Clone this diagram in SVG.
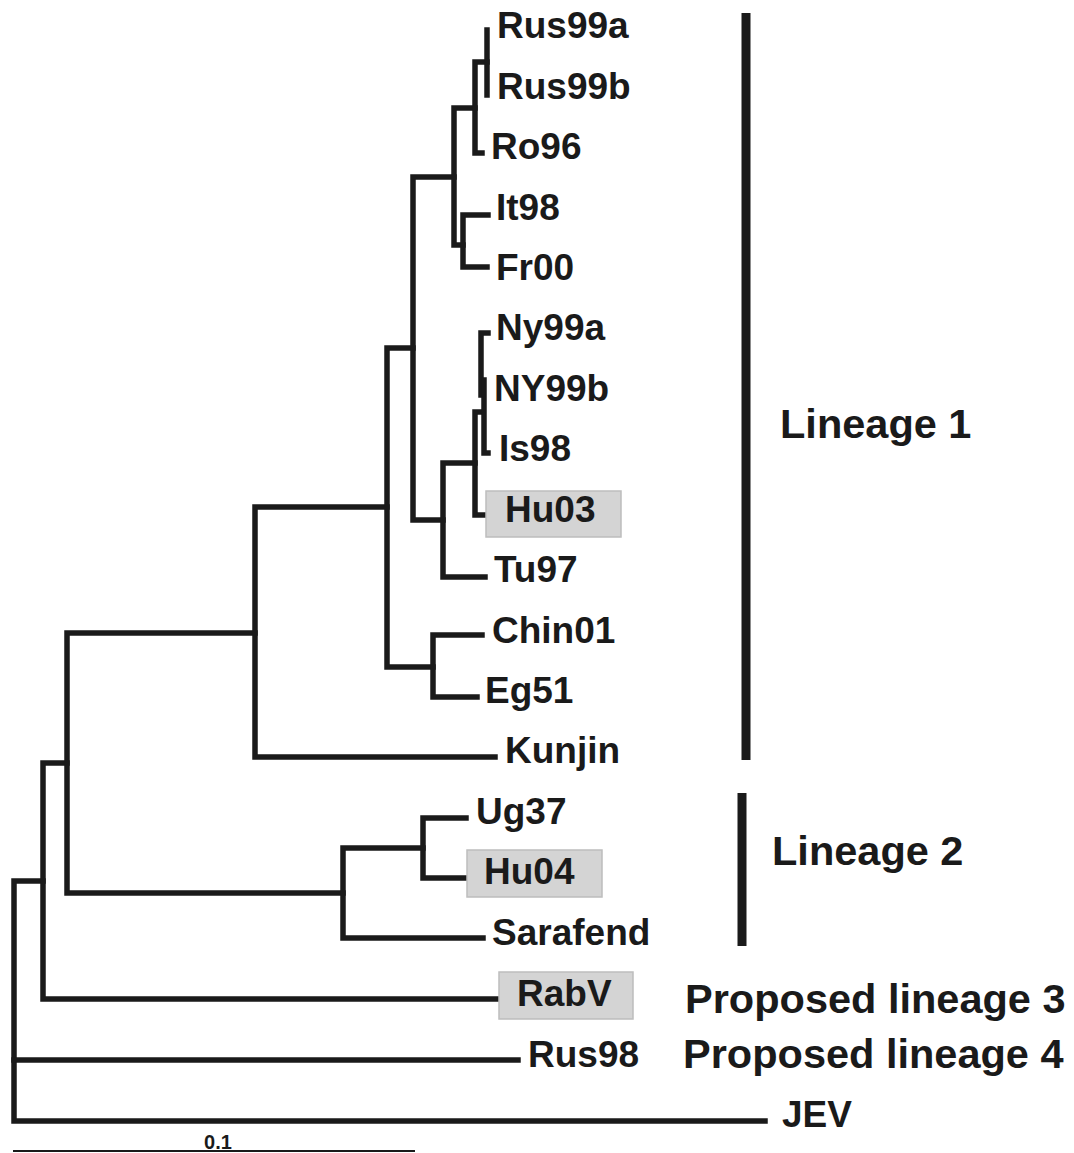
<svg xmlns="http://www.w3.org/2000/svg" width="1074" height="1153" viewBox="0 0 1074 1153">
<style>
.br{fill:none;stroke:#1a1a1a;stroke-width:5.5;stroke-linecap:square;stroke-linejoin:miter}
.bar{fill:none;stroke:#1a1a1a;stroke-width:9}
.tip{font-family:"Liberation Sans",Arial,sans-serif;font-weight:bold;font-size:37px;fill:#1a1a1a}
.lin{font-family:"Liberation Sans",Arial,sans-serif;font-weight:bold;font-size:41.5px;fill:#1a1a1a}
.hl{fill:#d4d4d4;stroke:#bdbdbd;stroke-width:1.5}
.sc{font-family:"Liberation Sans",Arial,sans-serif;font-weight:bold;font-size:20px;fill:#1a1a1a}
</style>
<rect width="1074" height="1153" fill="#ffffff"/>
<g id="connectors">
<path class="br" d="M43,881 H14 V1121 H765"/>
<path class="br" d="M14,1060 H518"/>
<path class="br" d="M67,763 H43 V999 H507"/>
<path class="br" d="M255,633 H67 V893 H343"/>
<path class="br" d="M423,848 H343 V938 H483"/>
<path class="br" d="M466,818 H423 V878 H475"/>
<path class="br" d="M387,507 H255 V757 H495"/>
<path class="br" d="M413,348 H387 V667 H433"/>
<path class="br" d="M482,635 H433 V697 H477"/>
<path class="br" d="M454,177 H413 V520 H443"/>
<path class="br" d="M475,463 H443 V577 H485"/>
<path class="br" d="M481,412 H475 V515 H495"/>
<path class="br" d="M488,333 H481 V395"/>
<path class="br" d="M484,380 V453 H488"/>
<path class="br" d="M475,108 H454 V245 H463"/>
<path class="br" d="M487,62 H475 V153 H482"/>
<path class="br" d="M487,30 V95"/>
<path class="br" d="M488,215 H463 V267 H487"/>
</g>
<g id="tip-Rus99a"><text class="tip" x="497" y="38">Rus99a</text></g>
<g id="tip-Rus99b"><text class="tip" x="497" y="99">Rus99b</text></g>
<g id="tip-Ro96"><text class="tip" x="491" y="159">Ro96</text></g>
<g id="tip-It98"><text class="tip" x="496" y="220">It98</text></g>
<g id="tip-Fr00"><text class="tip" x="496" y="280">Fr00</text></g>
<g id="tip-Ny99a"><text class="tip" x="496" y="340">Ny99a</text></g>
<g id="tip-NY99b"><text class="tip" x="494" y="401">NY99b</text></g>
<g id="tip-Is98"><text class="tip" x="499" y="461">Is98</text></g>
<g id="tip-Hu03"><rect class="hl" x="486" y="491" width="135" height="46"/><text class="tip" x="505" y="522">Hu03</text></g>
<g id="tip-Tu97"><text class="tip" x="494" y="582">Tu97</text></g>
<g id="tip-Chin01"><text class="tip" x="492" y="643">Chin01</text></g>
<g id="tip-Eg51"><text class="tip" x="485" y="703">Eg51</text></g>
<g id="tip-Kunjin"><text class="tip" x="505" y="763">Kunjin</text></g>
<g id="tip-Ug37"><text class="tip" x="476" y="824">Ug37</text></g>
<g id="tip-Hu04"><rect class="hl" x="467" y="850" width="135" height="47"/><text class="tip" x="484" y="884">Hu04</text></g>
<g id="tip-Sarafend"><text class="tip" x="492" y="945">Sarafend</text></g>
<g id="tip-RabV"><rect class="hl" x="499" y="972" width="134" height="47"/><text class="tip" x="517" y="1006">RabV</text></g>
<g id="tip-Rus98"><text class="tip" x="528" y="1067">Rus98</text></g>
<g id="tip-JEV"><text class="tip" x="782" y="1127">JEV</text></g>
<g id="lineage1"><line class="bar" x1="746" y1="13" x2="746" y2="760"/><text class="lin" x="780" y="438">Lineage 1</text></g>
<g id="lineage2"><line class="bar" x1="742" y1="793" x2="742" y2="946"/><text class="lin" x="772" y="865">Lineage 2</text></g>
<g id="lineage3"><text class="lin" x="685" y="1013">Proposed lineage 3</text></g>
<g id="lineage4"><text class="lin" x="683" y="1068">Proposed lineage 4</text></g>
<g id="scale"><line x1="13" y1="1151" x2="415" y2="1151" stroke="#1a1a1a" stroke-width="2"/><text class="sc" x="218" y="1149" text-anchor="middle">0.1</text></g>
</svg>
